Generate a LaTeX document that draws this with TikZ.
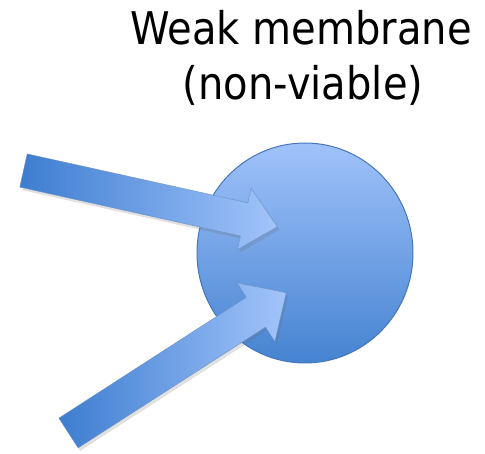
\documentclass[tikz,border=0pt]{standalone}
\usepackage{fontspec}
\setmainfont{DejaVu Sans}[FakeStretch=0.89]
\usetikzlibrary{shadows,fadings,shapes.geometric}
\definecolor{blueDark}{HTML}{3D7DD0}
\definecolor{blueLight}{HTML}{A2C4FA}
\definecolor{cellTop}{HTML}{A0C2FA}
\definecolor{cellBot}{HTML}{4583D1}
\definecolor{blueEdge}{HTML}{4676B8}
\tikzset{
  cellbody/.style={draw=blueEdge, line width=1pt, top color=cellTop, bottom color=cellBot},
  blockarrow/.style={draw=blueEdge!80, line width=0.4pt, line join=miter,
    drop shadow={shadow xshift=2pt, shadow yshift=-3pt, opacity=0.2, fill=black!60}},
  caption/.style={font=\fontsize{45}{55}\selectfont, align=center, text=black, inner sep=0pt}
}
\begin{document}
\begin{tikzpicture}[x=1pt,y=-1pt]
  \useasboundingbox (0,0) rectangle (485,454);
  % cell
  \node[cellbody, ellipse, minimum width=216pt, minimum height=220pt, inner sep=0pt] (cell) at (305,253) {};
  \node[caption, anchor=base] (t1) at (301,45) {Weak membrane};
  \node[caption, anchor=base] (t2) at (303,100) {(non-viable)};
  % upper arrow: tail at left, tip inside the cell
  \begin{scope}[shift={(23.5,170.5)}, rotate=-12.5]
    \shade[blockarrow, left color=blueDark, right color=blueLight]
      (0,-17) -- (226,-17) -- (226,-32) -- (260,0) -- (226,31) -- (226,17) -- (0,17) -- cycle;
  \end{scope}
  % lower arrow
  \begin{scope}[shift={(68.5,433)}, rotate=32.8]
    \shade[blockarrow, left color=blueDark, right color=blueLight]
      (0,-17.7) -- (223,-17.7) -- (223,-35) -- (259,0) -- (223,35) -- (223,17.7) -- (0,17.7) -- cycle;
  \end{scope}
\end{tikzpicture}
\end{document}
